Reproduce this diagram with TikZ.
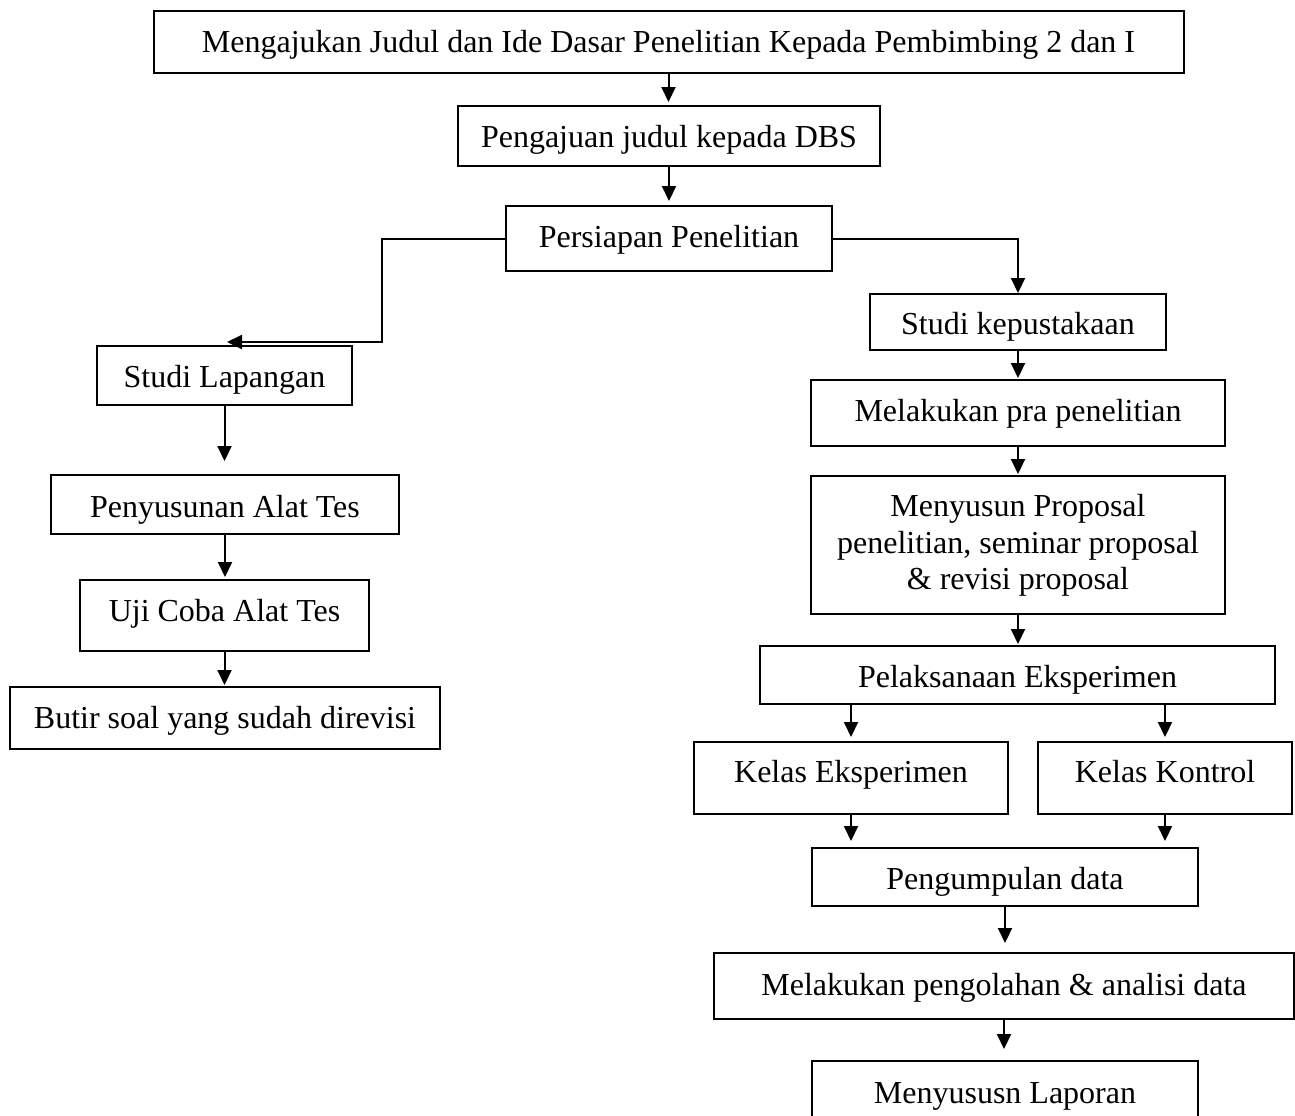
\documentclass[tikz,border=0pt]{standalone}
\usepackage{fontspec}
\setmainfont{Liberation Serif}
\usetikzlibrary{arrows.meta}
\tikzset{
  box/.style={draw, line width=1pt, inner sep=0pt, align=center, font=\fontsize{16}{18.25}\selectfont},
  bl/.style 2 args={text height=#1, text depth=#2},
  arr/.style={line width=1pt, -{Triangle[length=7.5pt,width=7pt]}}
}
\begin{document}
\begin{tikzpicture}[x=0.5pt,y=-0.5pt]
\useasboundingbox (0,0) rectangle (1295,1115);
% top and left column
\node[box, bl={13pt}{3pt}, minimum width=515pt, minimum height=31pt] (top) at (668.5,42) {Mengajukan Judul dan Ide Dasar Penelitian Kepada Pembimbing 2 dan I};
\node[box, bl={13.5pt}{2.5pt}, minimum width=211pt, minimum height=30pt] (dbs) at (669,136) {Pengajuan judul kepada DBS};
\node[box, bl={12.25pt}{3.75pt}, minimum width=163pt, minimum height=32.5pt] (pers) at (669,238.5) {Persiapan Penelitian};
\node[box, bl={13.75pt}{2.25pt}, minimum width=127.5pt, minimum height=29.5pt] (sl) at (224.5,375.5) {Studi Lapangan};
\node[box, bl={14.25pt}{1.75pt}, minimum width=174pt, minimum height=29.5pt] (pen) at (225,504.5) {Penyusunan Alat Tes};
\node[box, bl={10.75pt}{5.25pt}, minimum width=144.5pt, minimum height=35.5pt] (uji) at (224.5,615.5) {Uji Coba Alat Tes};
\node[box, bl={13pt}{3pt}, minimum width=215pt, minimum height=31pt] (butir) at (225,718) {Butir soal yang sudah direvisi};
% right column
\node[box, bl={14pt}{2pt}, minimum width=148pt, minimum height=28pt] (sk) at (1018,322) {Studi kepustakaan};
\node[box, bl={12pt}{4pt}, minimum width=207pt, minimum height=33pt] (pra) at (1018,413) {Melakukan pra penelitian};
\node[box, minimum width=207pt, minimum height=69pt] (prop) at (1018,545) {\rule{0pt}{13pt}Menyusun Proposal\\penelitian, seminar proposal\\\& revisi proposal\rule[-5pt]{0pt}{5pt}};
\node[box, bl={14pt}{2pt}, minimum width=257.5pt, minimum height=29pt] (pel) at (1017.5,675) {Pelaksanaan Eksperimen};
\node[box, bl={10pt}{6pt}, minimum width=157pt, minimum height=36pt] (ke) at (851,778) {Kelas Eksperimen};
\node[box, bl={10pt}{6pt}, minimum width=127pt, minimum height=36pt] (kk) at (1165,778) {Kelas Kontrol};
\node[box, bl={14pt}{2pt}, minimum width=193pt, minimum height=29pt] (pg) at (1005,877) {Pengumpulan data};
\node[box, bl={12.5pt}{3.5pt}, minimum width=290pt, minimum height=33pt] (olah) at (1004,986) {Melakukan pengolahan \& analisi data};
\node[box, bl={13pt}{3pt}, minimum width=193pt, minimum height=32pt] (lap) at (1005,1093) {Menyususn Laporan};
% helper coordinates
\coordinate (bendL) at (382,342);
\coordinate (slin) at (227,342);
% connectors
\draw[arr, shorten >=1.5pt] (top.south) -- (top.south |- dbs.north);
\draw[arr, shorten >=2pt] (dbs.south) -- (dbs.south |- pers.north);
\draw[arr] (pers.west) -| (bendL) -- (slin);
\draw[arr] (pers.east) -| (sk.north);
\draw[arr, shorten >=6.5pt] (sl.south) -- (sl.south |- pen.north);
\draw[arr, shorten >=1pt] (pen.south) -- (pen.south |- uji.north);
\draw[arr, shorten >=0.5pt] (uji.south) -- (uji.south |- butir.north);
\draw[arr, shorten >=0.5pt] (sk.south) -- (sk.south |- pra.north);
\draw[arr, shorten >=0.5pt] (pra.south) -- (pra.south |- prop.north);
\draw[arr, shorten >=0.5pt] (prop.south) -- (prop.south |- pel.north);
\draw[arr, shorten >=2pt] (pel.south -| ke.north) -- (ke.north);
\draw[arr, shorten >=2pt] (pel.south -| kk.north) -- (kk.north);
\draw[arr, shorten >=3pt] (ke.south) -- (ke.south |- pg.north);
\draw[arr, shorten >=3pt] (kk.south) -- (kk.south |- pg.north);
\draw[arr, shorten >=4.5pt] (pg.south) -- (pg.south |- olah.north);
\draw[arr, shorten >=5.5pt] (olah.south) -- (olah.south |- lap.north);
\end{tikzpicture}
\end{document}
